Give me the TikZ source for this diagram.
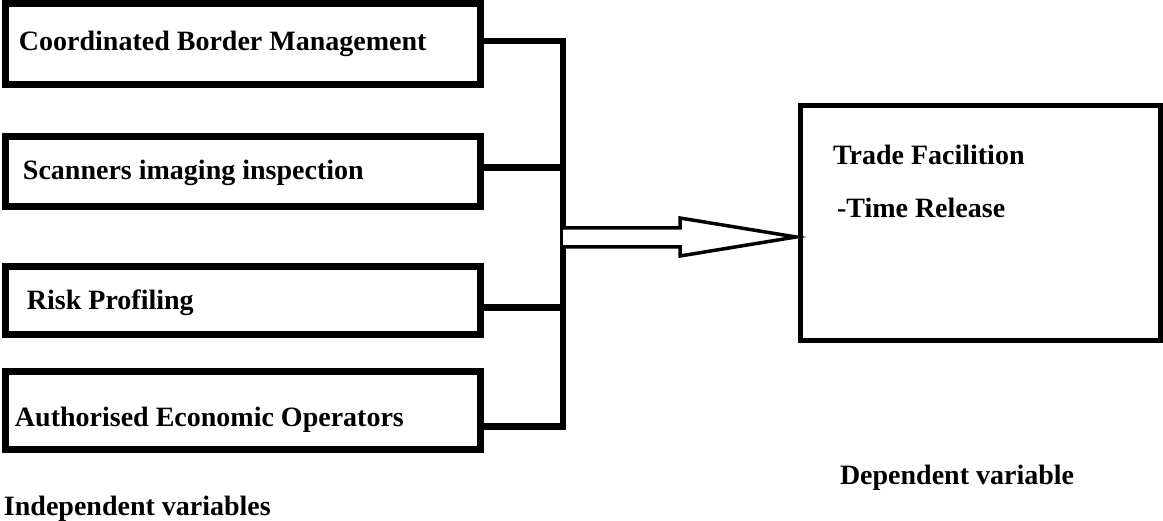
\documentclass[tikz,border=0pt]{standalone}
\usepackage{fontspec}
\setmainfont{Liberation Serif}
\usepackage{tikz}
\usetikzlibrary{calc}

\begin{document}
\begin{tikzpicture}[x=1pt,y=-1pt,every node/.style={outer sep=0pt,inner sep=0pt}]
\tikzset{
    varbox/.style = {draw,line width=7pt,minimum width=475pt,anchor=north west},
    depbox/.style = {draw,line width=5pt,minimum width=360pt,minimum height=235pt,anchor=north west},
    lbl/.style    = {anchor=base west,font=\fontsize{28}{33}\selectfont\bfseries},
    wire/.style   = {line width=6.5pt},
    hollow/.style = {line width=3.5pt,line join=miter,fill=white}
}

\useasboundingbox (0,0) rectangle (1163,521);

%% independent variables
\node (cbm) [varbox,minimum height=81pt] at (5.5,3.5) {};
\node (sii) [varbox,minimum height=70pt] at (5.5,136.5) {};
\node (rp)  [varbox,minimum height=67.5pt] at (5.5,267) {};
\node (aeo) [varbox,minimum height=77.5pt] at (5.5,372) {};

\node (cbmtxt) [lbl] at (19,51)  {Coordinated Border Management};
\node (siitxt) [lbl] at (23,180) {Scanners imaging inspection};
\node (rptxt)  [lbl] at (27,310) {Risk Profiling};
\node (aeotxt) [lbl] at (15,427) {Authorised Economic Operators};
\node (indep)  [lbl] at (4,515)  {Independent variables};

%% dependent variable
\node (dep) [depbox] at (800.5,105.5) {};
\node (deptxt) [lbl] at (833,165) {Trade Facilition};
\node (reltxt) [lbl] at (837,218) {-Time Release};
\node (deplbl) [lbl] at (840,485) {Dependent variable};

%% the bus
\coordinate (bustop) at (563,41);
\coordinate (busbot) at (563,426.5);
\draw [wire] (cbm.east |- bustop) -- (bustop) -- (busbot) -- (aeo.east |- busbot);
\draw [wire] (sii.east |- 0,167.5) -- (563,167.5);
\draw [wire] (rp.east |- 0,307.5) -- (563,307.5);

%% hollow arrow
\coordinate (tip) at ($(dep.west |- 0,237)+(-4.5,0)$);
\draw [hollow] (563,228) -- (680,228) -- (680,218) -- (tip) -- (680,256) -- (680,247) -- (563,247);

\end{tikzpicture}
\end{document}
